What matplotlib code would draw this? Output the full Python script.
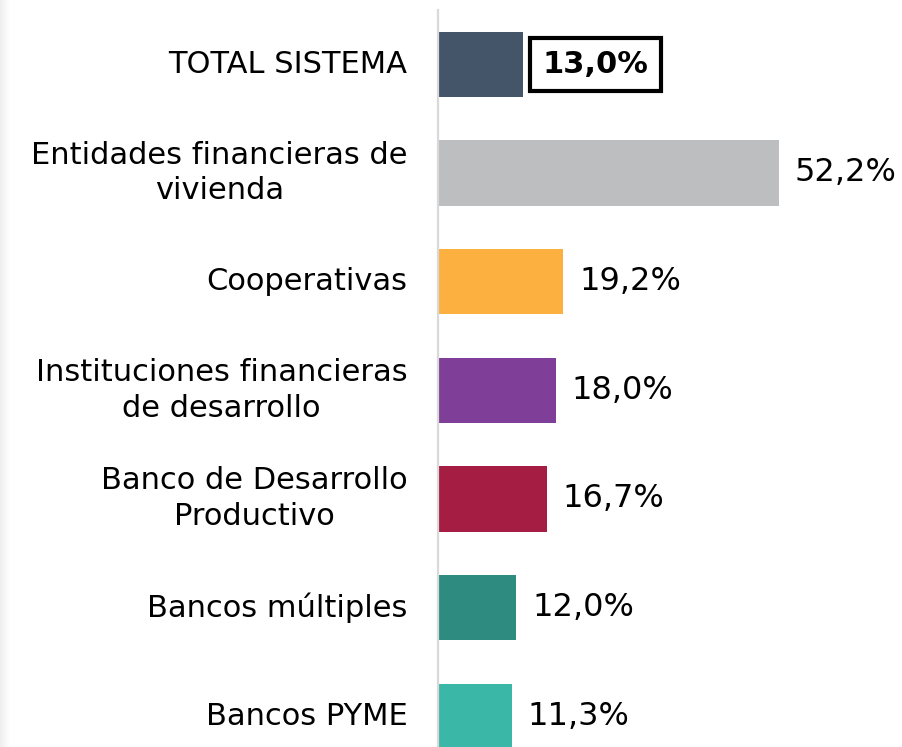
import numpy as np
import matplotlib
matplotlib.use("Agg")
import matplotlib.pyplot as plt


categories = [
    "TOTAL SISTEMA",
    "Entidades financieras de\nvivienda",
    "Cooperativas",
    "Instituciones financieras\nde desarrollo",
    "Banco de Desarrollo\nProductivo",
    "Bancos múltiples",
    "Bancos PYME",
]
values = [13.0, 52.2, 19.2, 18.0, 16.7, 12.0, 11.3]
value_labels = ["13,0%", "52,2%", "19,2%", "18,0%", "16,7%", "12,0%", "11,3%"]
colors = ["#445469", "#bdbec0", "#fbb040", "#7f3f98", "#a51d42", "#2e8b80", "#3bb7a8"]

W, H = 902, 747
AXIS_X = 438        # pixel position of the value axis
PX_PER_UNIT = 6.53  # pixels per percentage point


def main():
    fig = plt.figure(figsize=(W / 100, H / 100), dpi=100)

    # faint grey shading along the left edge
    side = fig.add_axes([0, 0, 10 / W, 1])
    grad = np.linspace(0.93, 1.0, 50).reshape(1, -1)
    side.imshow(grad, aspect="auto", cmap="gray", vmin=0, vmax=1, extent=[0, 1, 0, 1])
    side.axis("off")

    ax = fig.add_axes([AXIS_X / W, 0, (W - AXIS_X) / W, (H - 10) / H])
    y = np.arange(len(categories))
    ax.barh(y, values, height=0.6, color=colors)

    ax.set_xlim(0, (W - AXIS_X) / PX_PER_UNIT)
    ax.set_ylim(6.283, -0.5)

    for s in ["top", "right", "bottom"]:
        ax.spines[s].set_visible(False)
    ax.spines["left"].set_color("#d9d9d9")
    ax.spines["left"].set_linewidth(1.6)
    ax.set_xticks([])

    ax.set_yticks(y)
    ax.set_yticklabels(categories, fontsize=22, family="DejaVu Sans", linespacing=1.3)
    ax.tick_params(axis="y", length=0, pad=22)
    for lbl in ax.get_yticklabels():
        lbl.set_multialignment("center")
        lbl.set_verticalalignment("center")

    for i, (v, txt) in enumerate(zip(values, value_labels)):
        if i == 0:
            ax.text(v + 3.0, i, txt, va="center", ha="left", fontsize=22,
                    fontweight="bold", family="DejaVu Sans",
                    bbox=dict(boxstyle="square,pad=0.4", fc="white", ec="black", lw=3))
        else:
            ax.text(v + 2.4, i, txt, va="center", ha="left", fontsize=23,
                    family="DejaVu Sans")

    fig.savefig("out.png", dpi=100)
    plt.close(fig)


if __name__ == "__main__":
    main()
